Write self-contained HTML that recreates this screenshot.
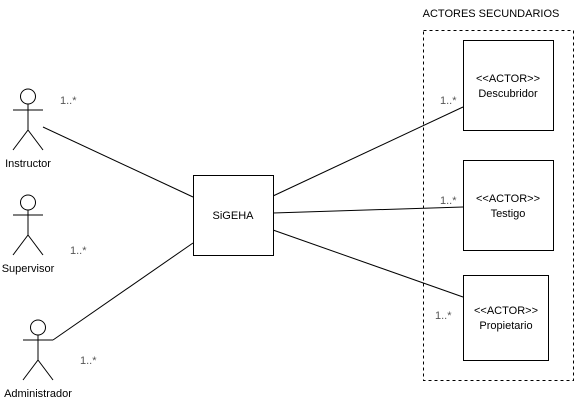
<!DOCTYPE html>
<html><head><meta charset="utf-8"><style>
html,body{margin:0;padding:0;background:#fff;}
svg{display:block;}
text{font-family:"Liberation Sans",Arial,sans-serif;font-size:11px;fill:#000;}
.g{fill:#555;}
</style></head><body>
<svg width="580" height="402" viewBox="0 0 580 402" xmlns="http://www.w3.org/2000/svg">
<g stroke="#000" stroke-width="1" fill="none">
<!-- Instructor -->
<circle cx="28" cy="96.5" r="7.5" fill="#fff"/>
<line x1="28" y1="104" x2="28" y2="130"/>
<line x1="13" y1="110" x2="43" y2="110"/>
<line x1="28" y1="130" x2="13" y2="150"/>
<line x1="28" y1="130" x2="43" y2="150"/>
<!-- Supervisor -->
<circle cx="28" cy="202.5" r="7.5" fill="#fff"/>
<line x1="28" y1="210" x2="28" y2="235"/>
<line x1="13" y1="215" x2="43" y2="215"/>
<line x1="28" y1="235" x2="13" y2="255"/>
<line x1="28" y1="235" x2="43" y2="255"/>
<!-- Administrador -->
<circle cx="38" cy="327.5" r="7.5" fill="#fff"/>
<line x1="38" y1="335" x2="38" y2="360"/>
<line x1="23" y1="340" x2="53" y2="340"/>
<line x1="38" y1="360" x2="23" y2="380"/>
<line x1="38" y1="360" x2="53" y2="380"/>
<!-- lines -->
<line x1="43" y1="127" x2="193" y2="197"/>
<line x1="53" y1="340" x2="193" y2="243"/>
<line x1="273" y1="196" x2="463" y2="107"/>
<line x1="273" y1="213" x2="463" y2="207"/>
<line x1="273" y1="230" x2="463" y2="297"/>
<!-- boxes -->
<rect x="423.5" y="30.5" width="150" height="350" stroke-dasharray="3,3"/>
<rect x="193.5" y="175.5" width="80" height="80" fill="#fff"/>
<rect x="463.5" y="40.5" width="90" height="90" fill="#fff"/>
<rect x="463.5" y="160.5" width="90" height="90" fill="#fff"/>
<rect x="463.5" y="275.5" width="85" height="85" fill="#fff"/>
</g>
<text x="28" y="167" text-anchor="middle">Instructor</text>
<text x="28" y="272" text-anchor="middle">Supervisor</text>
<text x="38" y="397" text-anchor="middle">Administrador</text>
<text x="233" y="219" text-anchor="middle">SiGEHA</text>
<text x="508" y="82" text-anchor="middle">&lt;&lt;ACTOR&gt;&gt;</text>
<text x="508" y="97" text-anchor="middle">Descubridor</text>
<text x="508" y="202" text-anchor="middle">&lt;&lt;ACTOR&gt;&gt;</text>
<text x="508" y="217" text-anchor="middle">Testigo</text>
<text x="506" y="314" text-anchor="middle">&lt;&lt;ACTOR&gt;&gt;</text>
<text x="506" y="329" text-anchor="middle">Propietario</text>
<text x="491" y="17" text-anchor="middle">ACTORES SECUNDARIOS</text>
<text class="g" x="60" y="104">1..*</text>
<text class="g" x="70" y="254">1..*</text>
<text class="g" x="80" y="364">1..*</text>
<text class="g" x="440" y="104">1..*</text>
<text class="g" x="440" y="204">1..*</text>
<text class="g" x="435" y="319">1..*</text>
</svg>
</body></html>
